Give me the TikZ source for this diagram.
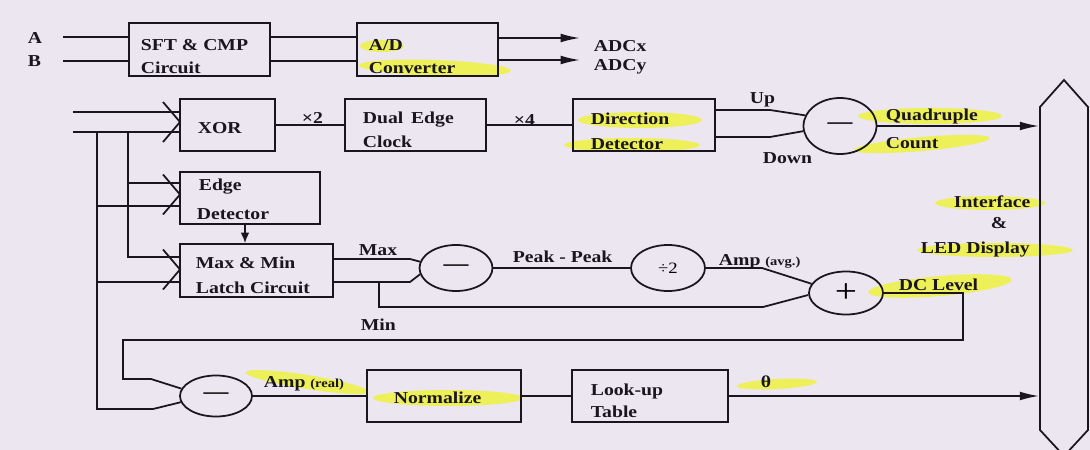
\documentclass[tikz,border=0pt]{standalone}
\usepackage{fontspec}
\setmainfont{Liberation Serif}[FakeStretch=1.18]
\usetikzlibrary{arrows.meta,shapes.geometric,fit,calc}
\definecolor{bg}{RGB}{236,230,241}
\definecolor{hl}{RGB}{238,242,62}
\definecolor{ink}{RGB}{25,22,30}
\newcommand\lblfont{\fontsize{9.5}{11}\selectfont\bfseries}
\tikzset{
  box/.style={draw=ink, rectangle, inner sep=0pt, line width=1pt},
  op/.style 2 args={draw=ink, ellipse, inner sep=0pt, line width=1pt,
    minimum width=#1*0.02cm, minimum height=#2*0.02cm},
  lbl/.style={anchor=base west, inner sep=0pt, text=ink, font=\lblfont},
  ar/.style={-{Latex[length=11pt,width=5pt]}},
  arS/.style={-{Latex[length=6pt,width=5pt]}},
  hlt/.style={fill=hl, opacity=0.85},
  wire/.style={draw=ink, line width=1pt}
}
\begin{document}
\begin{tikzpicture}[x=0.02cm, y=-0.02cm, line width=1pt]
\useasboundingbox (0,0) rectangle (1090,450);
\fill[bg] (0,0) rectangle (1090,450);

% highlighter strokes
\fill[hlt] (382,46) ellipse (22 and 6);
\fill[hlt, rotate around={-2:(435,68)}] (435,68) ellipse (76 and 8);
\fill[hlt] (640,120) ellipse (62 and 8);
\fill[hlt] (632,145) ellipse (68 and 7);
\fill[hlt] (930,116) ellipse (72 and 8);
\fill[hlt, rotate around={5:(922,144)}] (922,144) ellipse (68 and 7);
\fill[hlt] (990,203) ellipse (55 and 7);
\fill[hlt] (995,250) ellipse (78 and 7);
\fill[hlt, rotate around={5:(940,286)}] (940,286) ellipse (72 and 10);
\fill[hlt, rotate around={-9:(307,382)}] (307,382) ellipse (62 and 7);
\fill[hlt] (448,398) ellipse (75 and 8);
\fill[hlt, rotate around={3:(777,384)}] (777,384) ellipse (40 and 5);

% boxes
\node[box, fit={(129,23)(270,76)}] (sft) {};
\node[box, fit={(357,23)(498,76)}] (ad) {};
\node[box, fit={(180,99)(275,151)}] (xor) {};
\node[box, fit={(345,99)(486,151)}] (dec) {};
\node[box, fit={(573,99)(715,151)}] (dd) {};
\node[box, fit={(180,172)(320,224)}] (edge) {};
\node[box, fit={(180,244)(333,297)}] (mm) {};
\node[box, fit={(367,370)(521,422)}] (norm) {};
\node[box, fit={(572,370)(728,422)}] (lut) {};

% operators
\node[op={73}{56}] (s1) at (840,126) {\fontsize{12}{12}\selectfont\bfseries ---};
\node[op={73}{46}] (s2) at (456,268) {\fontsize{12}{12}\selectfont\bfseries ---};
\node[op={74}{46}] (dv) at (668,268) {\fontsize{9}{10}\selectfont ÷2};
\node[op={74}{43}] (add) at (846,293) {\fontsize{19}{19}\selectfont +};
\node[op={72}{41}] (s3) at (216,396) {\fontsize{12}{12}\selectfont\bfseries ---};

% display
\node[inner sep=0pt, fit={(1040,105)(1087,430)}] (disp) {};
\draw[ink] (1040,107) -- (1064,80) -- (1088,107) -- (1088,430) -- (1064,456) -- (1040,430) -- cycle;

% row 1
\coordinate (pA) at (63,37); \coordinate (pB) at (63,61);
\draw[wire] (pA) -- (pA -| sft.west);
\draw[wire] (pB) -- (pB -| sft.west);
\draw[wire] (sft.east |- pA) -- (ad.west |- pA);
\draw[wire] (sft.east |- pB) -- (ad.west |- pB);
\coordinate (oX) at (580,38); \coordinate (oY) at (580,60);
\draw[wire, ar] (ad.east |- oX) -- (oX);
\draw[wire, ar] (ad.east |- oY) -- (oY);

% row 2 inputs
\coordinate (p1) at (73,112); \coordinate (p2) at (73,132);
\draw[wire] (p1) -- (p1 -| xor.west);
\draw[wire] (p2) -- (p2 -| xor.west);
\coordinate (v1) at (180,122);
\draw[wire] ([shift={(-17,-20)}]v1) -- (v1) -- ++(-17,20);

% branches
\coordinate (j1) at (97,132); \coordinate (j2) at (128,132);
\coordinate (e1) at (128,183); \coordinate (e2) at (97,206);
\coordinate (m1) at (128,257); \coordinate (m2) at (97,282);
\coordinate (b1) at (97,409); \coordinate (b2) at (153,409);
\draw[wire] (j2) -- (m1) -- (m1 -| mm.west);
\draw[wire] (e1) -- (e1 -| edge.west);
\draw[wire] (e2) -- (e2 -| edge.west);
\draw[wire] (m2) -- (m2 -| mm.west);
\draw[wire] (j1) -- (b1) -- (b2) -- (s3.190);
\coordinate (v2) at (180,194.5);
\draw[wire] ([shift={(-17,-20)}]v2) -- (v2) -- ++(-17,20);
\coordinate (v3) at (180,269.5);
\draw[wire] ([shift={(-17,-20)}]v3) -- (v3) -- ++(-17,20);

\draw[wire, arS] ([xshift=-0.1cm]edge.south) -- ([xshift=-0.1cm]edge.south |- mm.north);

% row 2 chain
\draw[wire] (xor) -- (dec);
\draw[wire] (dec) -- (dd);
\coordinate (u1) at (770,110); \coordinate (d1) at (770,137);
\draw[wire] (u1 -| dd.east) -- (u1) -- (s1.163);
\draw[wire] (d1 -| dd.east) -- (d1) -- (s1.188);
\draw[wire, ar] (s1.east) -- (s1.east -| disp.west);

% max/min
\coordinate (mx) at (410,259); \coordinate (mn) at (410,282);
\draw[wire] (mx -| mm.east) -- (mx) -- (s2.170);
\draw[wire] (mn -| mm.east) -- (mn) -- (s2.190);
\coordinate (jm) at (379,282); \coordinate (jm2) at (379,307); \coordinate (lo) at (763,307);
\draw[wire] (jm) -- (jm2) -- (lo) -- (add.183);
\draw[wire] (s2) -- (dv);
\coordinate (av) at (762,268);
\draw[wire] (dv.east) -- (av) -- (add.165);

% DC loop
\coordinate (dc1) at (963,293); \coordinate (dc2) at (963,340);
\coordinate (dc3) at (123,340); \coordinate (dc4) at (123,379);
\coordinate (dc5) at (151,379);
\draw[wire] (add.east) -- (dc1) -- (dc2) -- (dc3) -- (dc4) -- (dc5) -- (s3.168);

% bottom row
\draw[wire] (s3) -- (norm);
\draw[wire] (norm) -- (lut);
\draw[wire, ar] (lut.east) -- (lut.east -| disp.west);

% labels
\node[lbl] (tA) at (27,43) {A};
\node[lbl] (tB) at (27,66) {B};
\node[lbl] (tADCx) at (593,51) {ADCx};
\node[lbl] (tADCy) at (593,70) {ADCy};
\node[lbl] (tsft1) at (140,50) {SFT \& CMP};
\node[lbl] (tsft2) at (140,73) {Circuit};
\node[lbl] (tad1) at (368,50) {A/D};
\node[lbl] (tad2) at (368,73) {Converter};
\node[lbl] (txor) at (197,133) {XOR};
\node[lbl] (tx2) at (301,123) {×2};
\node[lbl] (tdec1) at (362,123) {Dual\, Edge};
\node[lbl] (tdec2) at (362,147) {Clock};
\node[lbl] (tx4) at (513,125) {×4};
\node[lbl] (tdd1) at (590,124) {Direction};
\node[lbl] (tdd2) at (590,149) {Detector};
\node[lbl] (tup) at (749,103) {Up};
\node[lbl] (tdown) at (762,163) {Down};
\node[lbl] (tq1) at (885,120) {Quadruple};
\node[lbl] (tq2) at (885,148) {Count};
\node[lbl] (tif1) at (953,207) {Interface};
\node[lbl] (tif2) at (990,228) {\&};
\node[lbl] (tif3) at (920,253) {LED Display};
\node[lbl] (ted1) at (198,190) {Edge};
\node[lbl] (ted2) at (196,219) {Detector};
\node[lbl] (tmm1) at (195,268) {Max \& Min};
\node[lbl] (tmm2) at (195,293) {Latch Circuit};
\node[lbl] (tmax) at (358,255) {Max};
\node[lbl] (tmin) at (360,330) {Min};
\node[lbl] (tpp) at (512,262) {Peak - Peak};
\node[lbl] (tavg) at (718,265) {Amp {\fontsize{7}{8}\selectfont (avg.)}};
\node[lbl] (tdc) at (898,290) {DC Level};
\node[lbl] (treal) at (263,387) {Amp {\fontsize{7}{8}\selectfont (real)}};
\node[lbl] (tnorm) at (393,403) {Normalize};
\node[lbl] (tlut1) at (590,395) {Look-up};
\node[lbl] (tlut2) at (590,417) {Table};
\node[lbl] (tth) at (760,387) {θ};
\end{tikzpicture}
\end{document}
